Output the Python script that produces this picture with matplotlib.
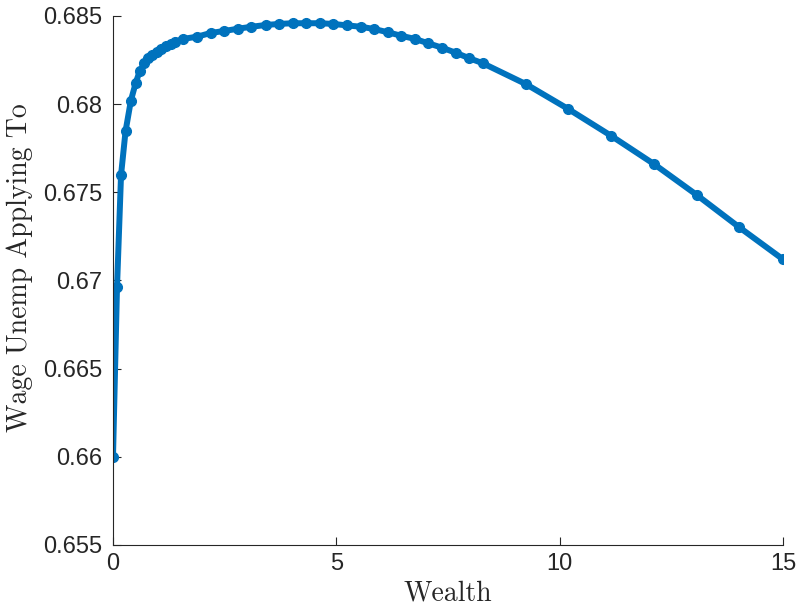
"""
Wage applied to by the unemployed, as a function of wealth
"""

import numpy as np
import matplotlib.pyplot as plt

# values
wealth = [0.0, 0.09, 0.18, 0.28, 0.40, 0.51, 0.60, 0.70, 0.79, 0.88,
          0.98, 1.07, 1.18, 1.29, 1.39, 1.57, 1.89, 2.19, 2.49, 2.80,
          3.10, 3.42, 3.72, 4.02, 4.32, 4.63, 4.93, 5.23, 5.55, 5.85,
          6.15, 6.45, 6.76, 7.06, 7.37, 7.67, 7.98, 8.28, 9.25, 10.19,
          11.15, 12.12, 13.07, 14.02, 15.0]
wage = [0.6600, 0.66963, 0.67598, 0.67845, 0.68020, 0.68122, 0.68188, 0.68232, 0.68260, 0.68279,
        0.68298, 0.68313, 0.68328, 0.68343, 0.68354, 0.68370, 0.68383, 0.68404, 0.68415, 0.68428,
        0.68439, 0.68449, 0.68455, 0.68459, 0.68459, 0.68459, 0.68455, 0.68447, 0.68439, 0.68426,
        0.68408, 0.68388, 0.68370, 0.68345, 0.68320, 0.68292, 0.68260, 0.68232, 0.68113, 0.67973,
        0.67821, 0.67659, 0.67485, 0.67302, 0.67120]

x_ticks = [0, 5, 10, 15]
y_ticks = [0.655, 0.66, 0.665, 0.67, 0.675, 0.68, 0.685]
y_labels = ['0.655', '0.66', '0.665', '0.67', '0.675', '0.68', '0.685']

text_col = '#262626'

fig = plt.figure(figsize=(7.98, 6.05), dpi=100)
ax = fig.add_axes([113 / 798, 60 / 605, 670 / 798, 529 / 605])

ax.plot(wealth, wage, '-o', color='#0072BD', lw=4.3, markersize=7)

ax.set_xlim(0, 15)
ax.set_ylim(0.655, 0.685)
ax.set_xticks(x_ticks)
ax.set_yticks(y_ticks)
ax.set_yticklabels(y_labels)

for side in ['top', 'right']:
    ax.spines[side].set_visible(False)
for side in ['left', 'bottom']:
    ax.spines[side].set_color(text_col)
    ax.spines[side].set_linewidth(0.8)

ax.tick_params(direction='in', length=6, width=0.8, colors=text_col,
               labelsize=17, pad=8)
ax.tick_params(axis='x', pad=6)
for lab in ax.get_xticklabels() + ax.get_yticklabels():
    lab.set_family(['Liberation Sans', 'DejaVu Sans'])

ax.set_xlabel('Wealth', family='cmr10', fontsize=20, color=text_col)
ax.set_ylabel('Wage Unemp Applying To', family='cmr10', fontsize=20, color=text_col)
ax.xaxis.set_label_coords(0.5, -0.067)
ax.yaxis.set_label_coords(-0.12, 0.525)

fig.savefig('out.png', dpi=100)
